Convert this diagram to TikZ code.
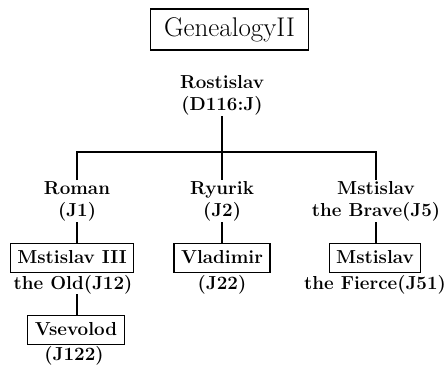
\documentclass[tikz,border=0pt]{standalone}
\begin{document}
\begin{tikzpicture}[x=1pt,y=-1pt,
  person/.style={align=center,inner sep=1pt,font=\fontsize{18.8}{22}\selectfont\bfseries},
  namebox/.style={draw,line width=1.1pt,inner xsep=7pt,inner ysep=5.5pt,text height=14pt,text depth=4pt,font=\fontsize{18.8}{22}\selectfont\bfseries},
  sub/.style={inner sep=0pt,text height=13pt,text depth=4.7pt,font=\fontsize{18.8}{22}\selectfont\bfseries},
  link/.style={line width=1.1pt}]
\useasboundingbox (0,0) rectangle (446,365);
\node[draw,line width=1.1pt,minimum width=158pt,minimum height=41pt,inner sep=0pt,font=\fontsize{27}{31}\selectfont] (title) at (229.5,29.5) {GenealogyII};
\node[person] (ros) at (222,95) {Rostislav\\(D116:J)};
\node[person] (rom) at (77,201) {Roman\\(J1)};
\node[person] (ryu) at (222,201) {Ryurik\\(J2)};
\node[person] (msb) at (376,201) {Mstislav\\the Brave(J5)};
\node[namebox] (m3) at (72,258) {Mstislav III};
\node[sub] (m3s) at (73,285) {the Old(J12)};
\node[namebox] (vla) at (222,258) {Vladimir};
\node[sub] (vlas) at (222,285) {(J22)};
\node[namebox] (msf) at (375,258) {Mstislav};
\node[sub] (msfs) at (375,285) {the Fierce(J51)};
\node[namebox] (vse) at (76,330) {Vsevolod};
\node[sub] (vses) at (74,356) {(J122)};
\coordinate (bar) at (222,152);
\draw[link] (ros.south) -- (bar);
\draw[link] (rom.north) -- (rom.north |- bar) -- (msb.north |- bar) -- (msb.north);
\draw[link] (bar) -- (ryu.north);
\draw[link] (rom.south) -- (rom.south |- m3.north);
\draw[link] (ryu.south) -- (ryu.south |- vla.north);
\draw[link] (msb.south) -- (msb.south |- msf.north);
\draw[link] (m3s.south -| rom.south) -- (rom.south |- vse.north);
\end{tikzpicture}
\end{document}
